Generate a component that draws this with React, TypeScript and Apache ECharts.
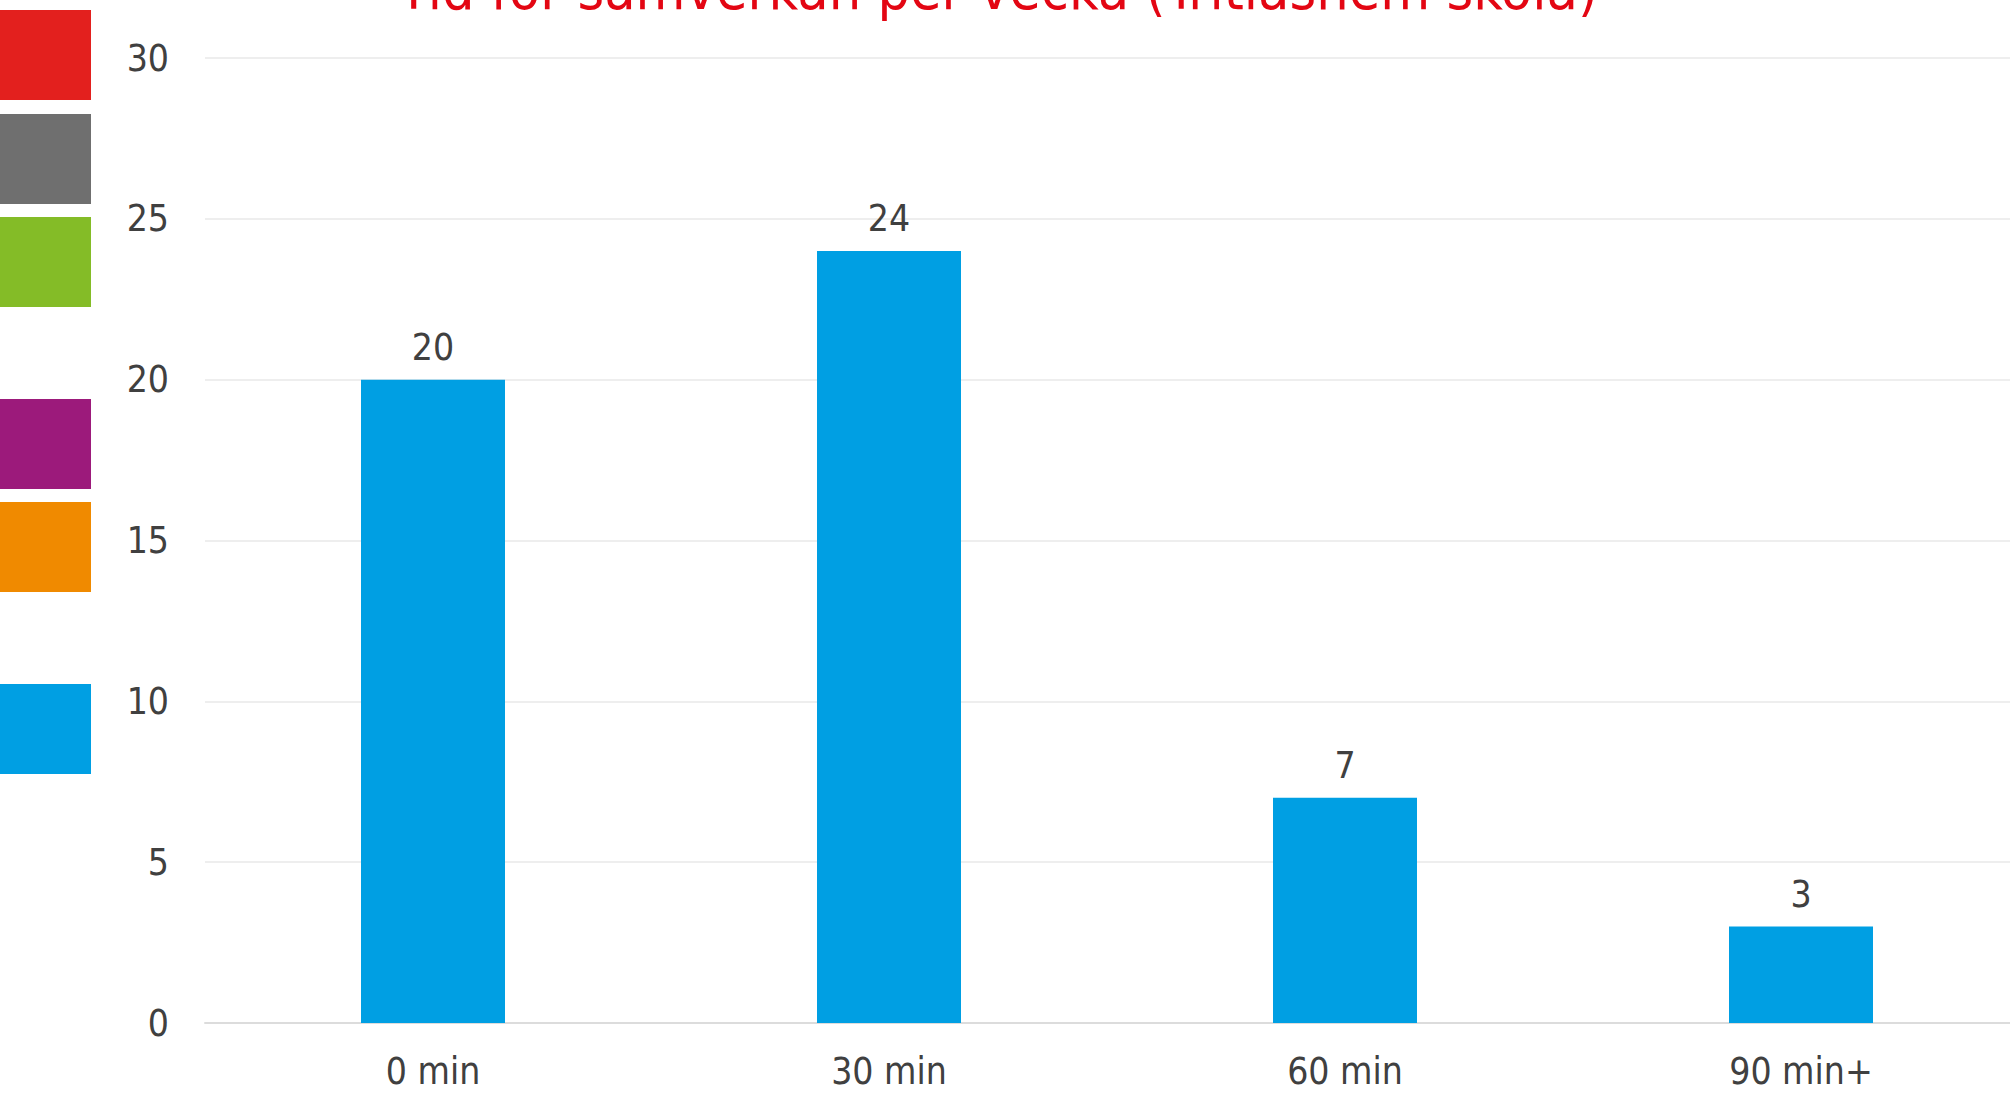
import React, { useEffect, useRef } from "react";
import * as echarts from "echarts";

const TITLE = "Tid för samverkan per vecka (Tritiashem skola)";
const categories = ["0 min", "30 min", "60 min", "90 min+"];
const values = [20, 24, 7, 3];
const yTicks = { min: 0, max: 30, interval: 5 };
const swatchColors = ["#E3201E", "#6F6F6F", "#84BC27", "#9C1A7B", "#F08A00", "#009FE3"];
const swatchTops = [10, 114, 217, 399, 502, 684];

const FONT = "'DejaVu Sans Condensed', 'DejaVu Sans', sans-serif";
const TEXT = "#404040";
const BAR = "#009FE3";

export default function App() {
  const ref = useRef<HTMLDivElement>(null);
  useEffect(() => {
    if (!ref.current) return;
    const chart = echarts.init(ref.current, undefined, { renderer: "svg" });
    chart.setOption({
      animation: false,
      backgroundColor: "#ffffff",
      grid: { left: 205, right: 0, top: 58, bottom: 71, containLabel: false },
      xAxis: {
        type: "category",
        data: categories,
        axisLine: { show: true, lineStyle: { color: "#DCDCDC", width: 2 } },
        axisTick: { show: false },
        axisLabel: { color: TEXT, fontSize: 37, fontFamily: FONT, margin: 30 },
      },
      yAxis: {
        type: "value",
        min: yTicks.min,
        max: yTicks.max,
        interval: yTicks.interval,
        axisLine: { show: false },
        axisTick: { show: false },
        axisLabel: { color: TEXT, fontSize: 37, fontFamily: FONT, margin: 36 },
        splitLine: { lineStyle: { color: "#E9E9E9", width: 1.5 } },
      },
      graphic: [
        {
          type: "text",
          x: 998,
          y: 17,
          style: {
            text: TITLE,
            fill: "#E30613",
            font: `57px ${FONT}`,
            textAlign: "center",
            textVerticalAlign: "bottom",
          },
        },
        ...swatchColors.map((c, i) => ({
          type: "rect",
          shape: { x: 0, y: swatchTops[i], width: 91, height: 90 },
          style: { fill: c },
        })),
      ],
      series: [
        {
          type: "bar",
          data: values,
          barWidth: 144,
          itemStyle: { color: BAR },
          label: {
            show: true,
            position: "top",
            distance: 14,
            color: TEXT,
            fontSize: 37,
            fontFamily: FONT,
          },
        },
      ],
    });
    return () => chart.dispose();
  }, []);
  return (
    <div
      style={{
        position: "absolute",
        left: 0,
        top: 0,
        width: 2010,
        height: 1094,
        overflow: "hidden",
      }}
    >
      <div ref={ref} style={{ width: 2029, height: 1094 }} />
    </div>
  );
}
